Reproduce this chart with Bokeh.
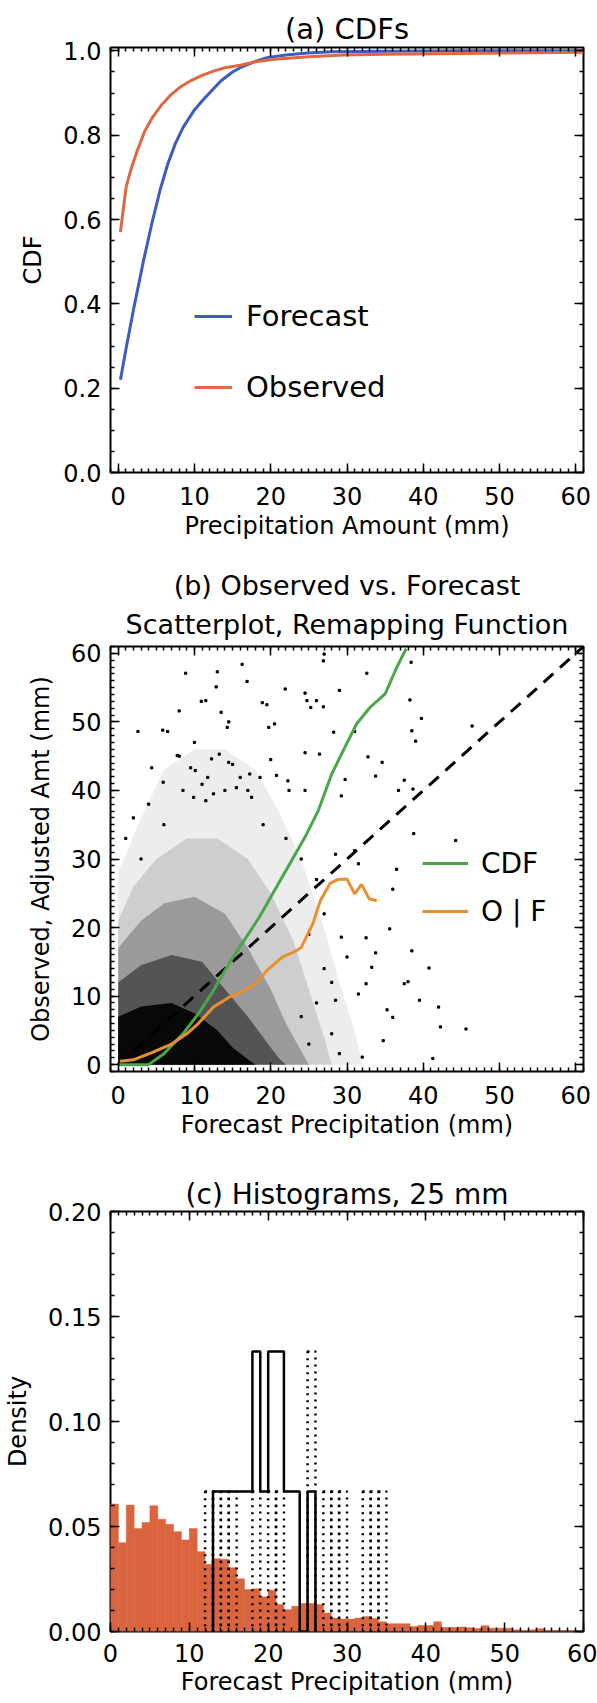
import numpy as np
from bokeh.plotting import figure
from bokeh.layouts import column
from bokeh.models import (Range1d, LinearAxis, SingleIntervalTicker,
                          PrintfTickFormatter, Legend, LegendItem, Title)
from bokeh.embed import file_html
from bokeh.resources import INLINE

FONT = "DejaVu Sans"

# ---------------- data: panel (a) CDFs ----------------
fcst_cdf_x = [0.3, 1.0, 2.0, 3.3, 4.5, 5.5, 6.5, 7.5, 8.5, 10.0, 11.0, 12.5, 13.5,
              15.0, 16.0, 18.0, 19.5, 22.0, 24.8, 28.0, 35.0, 45.0, 61.0]
fcst_cdf_y = [0.22, 0.29, 0.385, 0.50, 0.597, 0.67, 0.731, 0.78, 0.818, 0.86, 0.881,
              0.91, 0.929, 0.95, 0.96, 0.975, 0.984, 0.99, 0.995, 0.998, 0.999, 1.0, 1.0]
obs_cdf_x = [0.3, 1.04, 1.7, 2.5, 3.5, 4.5, 5.7, 7.0, 8.2, 9.5, 11.0, 12.5, 14.0,
             16.0, 18.0, 20.5, 25.0, 29.5, 35.0, 45.0, 61.0]
obs_cdf_y = [0.57, 0.676, 0.72, 0.763, 0.81, 0.842, 0.872, 0.897, 0.915, 0.929, 0.942,
             0.952, 0.96, 0.966, 0.974, 0.98, 0.986, 0.99, 0.992, 0.994, 0.997]

# ---------------- data: panel (b) scatter & remapping ----------------
scatter_x = [2.6, 5.85, 6.5, 8.0, 8.85, 13.0, 12.85, 13.5, 14.5, 14.3, 10.9, 11.5, 16.25,
             16.9, 19.5, 18.9, 19.75, 20.5, 21.9, 24.5, 24.75, 25.25, 26.0, 26.9, 26.9,
             27.0, 28.25, 29.0, 31.0, 32.6, 38.4, 38.25, 38.5, 39.0, 39.75, 46.4, 34.6,
             32.75, 33.75, 37.5, 38.65, 36.75, 29.75, 29.25, 24.5, 26.4, 22.25, 22.4, 20.0,
             18.6, 4.4, 5.9, 8.0, 9.5, 10.1, 10.0, 9.9, 12.25, 13.25, 15.0, 16.0, 17.25,
             11.75, 11.0, 11.5, 12.5, 14.0, 15.5, 17.0, 17.5, 7.75, 8.5, 14.5, 20.75, 24.5,
             44.25, 38.75, 36.5, 35.6, 38.5, 40.75, 37.5, 38.0, 39.5, 42.0, 42.25, 45.6,
             34.75, 36.0, 35.25, 33.25, 32.5, 33.75, 32.5, 31.5, 30.0, 29.25, 28.5, 28.0,
             29.0, 32.0, 41.25, 31.0, 28.5, 31.5, 36.0, 1.0, 2.0, 4.0, 6.0, 3.0, 19.0,
             22.0, 24.0, 26.0, 27.0, 25.0, 27.0, 26.0, 24.0, 25.0, 28.0]
scatter_y = [48.6, 48.8, 48.6, 51.6, 57.1, 57.3, 55.1, 51.4, 50.0, 49.2, 53.0, 53.1, 58.4,
             55.9, 52.5, 52.8, 49.2, 49.7, 54.8, 54.2, 53.1, 52.1, 53.1, 52.2, 58.9,
             59.9, 48.5, 54.6, 48.6, 57.1, 58.7, 53.2, 48.7, 47.2, 50.5, 49.4, 44.1,
             44.9, 42.1, 41.5, 40.2, 40.0, 41.6, 39.2, 45.5, 45.3, 41.4, 40.0, 44.5,
             41.9, 43.3, 41.2, 45.0, 43.3, 42.9, 47.0, 39.0, 44.6, 45.3, 43.8, 41.9, 42.4,
             41.9, 40.9, 38.5, 39.5, 40.0, 40.4, 40.0, 39.0, 45.1, 40.0, 44.1, 42.2, 40.0,
             32.7, 33.7, 28.5, 19.8, 16.6, 14.1, 11.8, 12.1, 9.4, 8.4, 5.5, 5.2,
             3.5, 6.9, 8.0, 14.2, 18.5, 16.3, 11.8, 10.3, 15.7, 18.6, 9.4, 4.5,
             1.6, 1.1, 0.9, 31.2, 30.7, 29.3, 25.6, 33.0, 36.0, 38.0, 35.0, 30.0, 35.0,
             33.0, 30.0, 27.0, 22.0, 19.0, 14.0, 9.0, 7.0, 3.0, 12.0]

# density envelopes of the dense scatter cloud (outer -> core)
cloud_l1_x = [0, 0, 3, 6, 10, 14, 18, 21, 24, 27, 29, 31, 32]
cloud_l1_y = [0, 28, 36, 43, 46, 46, 43, 37, 30, 20, 12, 5, 0]
cloud_l2_x = [0, 0, 2, 5, 9, 13, 17, 20, 23, 25, 27, 28]
cloud_l2_y = [0, 21, 26, 30, 33, 33, 30, 25, 18, 11, 4, 0]
cloud_l3_x = [0, 0, 3, 6, 10, 14, 17, 20, 22, 24, 25]
cloud_l3_y = [0, 17, 21, 23.5, 24.5, 22, 17, 11, 6, 2, 0]
cloud_l4_x = [0, 0, 3, 7, 11, 14, 17, 19, 21, 22]
cloud_l4_y = [0, 12, 14.5, 16, 15, 11, 7, 4, 1, 0]
cloud_l5_x = [0, 0, 3, 7, 10, 13, 15, 17, 18]
cloud_l5_y = [0, 7, 8.5, 9, 7.5, 5, 2.5, 0.8, 0]

cdf_map_x = [0.0, 4.0, 6.0, 8.5, 10.5, 12.5, 14.5, 16.5, 18.5, 20.5, 22.5, 24.5, 26.25,
             28.0, 29.5, 31.25, 33.0, 35.0, 36.5, 37.75]
cdf_map_y = [0.0, 0.0, 1.6, 4.5, 7.4, 10.8, 14.7, 18.1, 21.5, 25.4, 29.3, 33.2, 37.1,
             42.4, 45.8, 49.7, 52.1, 54.1, 57.9, 60.7]
cond_mean_x = [0.25, 2.0, 4.5, 7.0, 9.0, 10.5, 12.5, 14.5, 16.5, 18.0, 19.5, 21.5, 23.0,
               24.0, 25.5, 26.5, 27.75, 28.75, 30.0, 31.0, 31.9, 32.9, 33.9]
cond_mean_y = [0.5, 0.7, 1.8, 3.0, 4.5, 6.0, 8.4, 9.8, 10.8, 11.8, 13.7, 15.7, 16.4,
               17.1, 20.5, 23.9, 26.4, 27.0, 27.1, 24.9, 26.3, 24.2, 23.9]
diag_x = [0, 61]

# ---------------- data: panel (c) histograms ----------------
clim_density = [0.0607, 0.0423, 0.0602, 0.0491, 0.0519, 0.0599, 0.0535, 0.0511, 0.0475,
                0.0436, 0.0491, 0.0380, 0.0320, 0.0347, 0.0344, 0.0304, 0.0251, 0.0200,
                0.0203, 0.0165, 0.0197, 0.0128, 0.0104, 0.0120, 0.0133, 0.0133, 0.0128,
                0.0088, 0.0064, 0.0059, 0.0059, 0.0064, 0.0072, 0.0062, 0.0046, 0.0037,
                0.0037, 0.0037, 0.0024, 0.0029, 0.0029, 0.0046, 0.0019, 0.0019, 0.0021,
                0.0018, 0.0014, 0.0027, 0.0016, 0.0016, 0.0016, 0.0008, 0.0005, 0.0008,
                0.0013, 0.0006, 0.0004, 0.0003, 0.0003, 0.0002]
solid_bins = [13, 14, 15, 16, 17, 18, 19, 20, 21, 22, 23, 24, 25]
solid_counts = [1, 1, 1, 1, 1, 2, 1, 2, 2, 1, 1, 0, 1]
dotted_bins = [12, 13, 14, 15, 18, 20, 21, 25, 27, 28, 29, 32, 33, 34]
dotted_counts = [1, 1, 1, 1, 1, 1, 1, 2, 1, 1, 1, 1, 1, 1]
n_cases = 15

BLUE = "#3d5cc0"
RED = "#df6842"
GREEN = "#4aa64a"
ORANGE = "#e8902f"
BAR = "#d9643e"

TICK_PX = "24px"


def base_fig(height, xr, yr, b_top, b_bottom):
    p = figure(width=597, height=height, x_range=xr, y_range=yr, title=None,
               output_backend="svg", toolbar_location=None,
               min_border_left=110, min_border_right=14,
               min_border_top=b_top, min_border_bottom=b_bottom)
    p.grid.visible = False
    p.outline_line_color = "black"
    p.outline_line_width = 2
    p.outline_line_alpha = 1
    p.background_fill_color = "white"
    p.border_fill_color = "white"
    return p


def style_axis(ax, show_labels=True):
    ax.axis_line_color = None
    ax.major_tick_in = 9
    ax.major_tick_out = 0
    ax.minor_tick_in = 4
    ax.minor_tick_out = 0
    ax.major_tick_line_width = 1.5
    ax.minor_tick_line_width = 1.5
    ax.major_tick_line_color = "black"
    ax.minor_tick_line_color = "black"
    ax.major_label_text_font = FONT
    ax.axis_label_text_font = FONT
    ax.axis_label_text_font_style = "normal"
    ax.axis_label_text_color = "black"
    ax.axis_label_text_font_size = TICK_PX
    if show_labels:
        ax.major_label_text_font_size = TICK_PX
        ax.major_label_text_color = "black"
    else:
        ax.major_label_text_font_size = "1px"
        ax.major_label_text_color = None
        ax.major_label_standoff = 0


def dress(p, xtick, ytick, xfmt, yfmt, xlabel, ylabel, xstand, xlstand, ylstand):
    xa = p.xaxis[0]
    ya = p.yaxis[0]
    xa.ticker = xtick
    ya.ticker = ytick
    xa.formatter = PrintfTickFormatter(format=xfmt)
    ya.formatter = PrintfTickFormatter(format=yfmt)
    style_axis(xa)
    style_axis(ya)
    xa.axis_label = xlabel
    ya.axis_label = ylabel
    xa.major_label_standoff = xstand
    xa.axis_label_standoff = xlstand
    ya.major_label_standoff = 9
    ya.axis_label_standoff = ylstand
    top = LinearAxis(ticker=xtick)
    right = LinearAxis(ticker=ytick)
    style_axis(top, False)
    style_axis(right, False)
    p.add_layout(top, "above")
    p.add_layout(right, "right")


def add_title(p, text, standoff, size="28px", line_height=1.2):
    p.add_layout(Title(text=text, align="center", text_font=FONT,
                       text_font_size=size, text_font_style="normal",
                       text_color="black", standoff=standoff,
                       text_line_height=line_height), "above")


def legend(items, loc, gw, stand, spacing, size):
    return Legend(items=items, location=loc, orientation="vertical",
                  border_line_color=None, background_fill_alpha=0,
                  label_text_font=FONT, label_text_font_size=size,
                  label_text_color="black", glyph_width=gw, glyph_height=34,
                  label_height=34, label_standoff=stand, spacing=spacing,
                  padding=0, margin=0)


# ---------------- panel (a) ----------------
pa = base_fig(556, Range1d(-1, 61), Range1d(0, 1.008), 47, 84)
la_f = pa.line(fcst_cdf_x, fcst_cdf_y, line_color=BLUE, line_width=3)
la_o = pa.line(obs_cdf_x, obs_cdf_y, line_color=RED, line_width=3)
dress(pa, SingleIntervalTicker(interval=10, num_minor_ticks=10),
      SingleIntervalTicker(interval=0.2, num_minor_ticks=4),
      "%d", "%.1f", "Precipitation Amount (mm)", "CDF", 14, 4, 13)
add_title(pa, "(a) CDFs", 3, "29px")
pa.add_layout(legend([LegendItem(label="Forecast", renderers=[la_f]),
                      LegendItem(label="Observed", renderers=[la_o])],
                     (84, 68), 38, 14, 37, "29px"), "center")

# ---------------- panel (b) ----------------
pb = base_fig(589, Range1d(-1, 61), Range1d(-1, 61), 90, 74)
pb.line(diag_x, diag_x, line_color="black", line_width=3, line_dash="13 9")
for cx, cy, a in [(cloud_l1_x, cloud_l1_y, 0.07), (cloud_l2_x, cloud_l2_y, 0.13),
                  (cloud_l3_x, cloud_l3_y, 0.25), (cloud_l4_x, cloud_l4_y, 0.45),
                  (cloud_l5_x, cloud_l5_y, 0.9)]:
    pb.patch(cx, cy, fill_color="black", fill_alpha=a, line_color=None)
pb.scatter(scatter_x, scatter_y, marker="square", size=2.2, color="black")
lb_c = pb.line(cdf_map_x, cdf_map_y, line_color=GREEN, line_width=3)
lb_o = pb.line(cond_mean_x, cond_mean_y, line_color=ORANGE, line_width=3)
dress(pb, SingleIntervalTicker(interval=10, num_minor_ticks=10),
      SingleIntervalTicker(interval=10, num_minor_ticks=10),
      "%d", "%d", "Forecast Precipitation (mm)", "Observed, Adjusted Amt (mm)", 14, 4, 13)
add_title(pb, "Scatterplot, Remapping Function", 13, "27px", 0.95)
add_title(pb, "(b) Observed vs. Forecast", 0, "27px", 0.95)
pb.add_layout(legend([LegendItem(label="CDF", renderers=[lb_c]),
                      LegendItem(label="O | F", renderers=[lb_o])],
                     (312, 143), 46, 13, 14, "28px"), "center")

# ---------------- panel (c) ----------------
pc = base_fig(557, Range1d(0, 60), Range1d(0, 0.2), 66, 71)
edges = np.arange(len(clim_density) + 1)
pc.quad(left=edges[:-1], right=edges[1:], bottom=0, top=clim_density,
        fill_color=BAR, line_color=BAR, line_width=0.5)
d_left = np.array(dotted_bins, dtype=float)
d_top = np.array(dotted_counts, dtype=float) / n_cases
pc.quad(left=d_left, right=d_left + 1, bottom=0, top=d_top, fill_color=None,
        line_color="black", line_width=2.5, line_dash="2 5")
s_x = [solid_bins[0]] + list(solid_bins) + [solid_bins[-1] + 1]
s_y = [0.0] + [c / n_cases for c in solid_counts] + [0.0]
pc.step(s_x, s_y, mode="after", line_color="black", line_width=2.5)
dress(pc, SingleIntervalTicker(interval=10, num_minor_ticks=10),
      SingleIntervalTicker(interval=0.05, num_minor_ticks=5),
      "%d", "%.2f", "Forecast Precipitation (mm)", "Density", 12, 3, 13)
add_title(pc, "(c) Histograms, 25 mm", 2)

layout = column(pa, pb, pc, spacing=0)
open("out.html", "w").write(file_html(layout, INLINE))
